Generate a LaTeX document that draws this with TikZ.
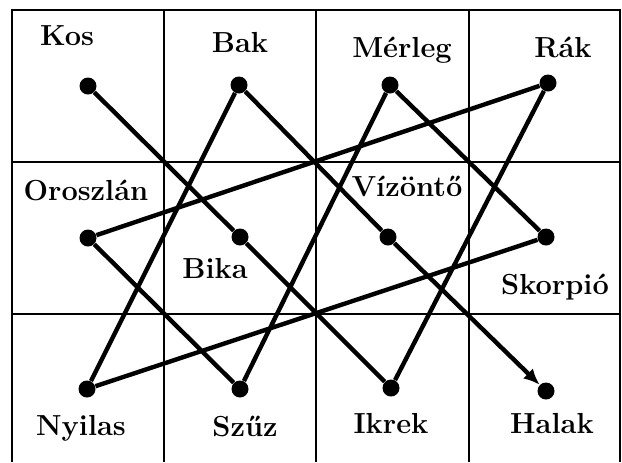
\documentclass[tikz,border=0pt]{standalone}
\usepackage{tikz}
\usetikzlibrary{arrows.meta}
\begin{document}
\begin{tikzpicture}[x=0.5pt,y=-0.5pt]
\tikzstyle{every node}+=[inner sep=0pt]
\tikzstyle{dot}=[circle,fill=black,minimum size=8.5pt]
\tikzstyle{sign}=[anchor=base,font=\fontsize{14.5}{17}\selectfont\bfseries]
\tikzstyle{grid}=[black,line width=1.3pt]
\tikzstyle{link}=[black,line width=2.2pt]
\useasboundingbox (0,0) rectangle (622,462);
\draw [grid] (12,462) -- (12,10) -- (620,10) -- (620,462);
\draw [grid] (164,10) -- (164,462);
\draw [grid] (316,10) -- (316,462);
\draw [grid] (469,10) -- (469,462);
\draw [grid] (12,162) -- (620,162);
\draw [grid] (12,314) -- (620,314);
\node [dot] (kos) at (88,86) {};
\node [dot] (bak) at (239,85) {};
\node [dot] (merleg) at (390,85) {};
\node [dot] (rak) at (548,83) {};
\node [dot] (oroszlan) at (88,238) {};
\node [dot] (bika) at (240,237) {};
\node [dot] (vizonto) at (388,237) {};
\node [dot] (skorpio) at (546,237) {};
\node [dot] (nyilas) at (87,389) {};
\node [dot] (szuz) at (240,389) {};
\node [dot] (ikrek) at (391,388) {};
\node [dot] (halak) at (546,391) {};
\node [sign] (kosl) at (67,45) {Kos};
\node [sign] (bakl) at (240,52) {Bak};
\node [sign] (merlegl) at (402,57) {Mérleg};
\node [sign] (rakl) at (563,57) {Rák};
\node [sign] (oroszlanl) at (86,200) {Oroszlán};
\node [sign] (bikal) at (215,278) {Bika};
\node [sign] (vizontol) at (407,196) {Vízöntő};
\node [sign] (skorpiol) at (555,294) {Skorpió};
\node [sign] (nyilasl) at (81,435) {Nyilas};
\node [sign] (szuzl) at (245,436) {Szűz};
\node [sign] (ikrekl) at (391,433) {Ikrek};
\node [sign] (halakl) at (552,433) {Halak};
\draw [link] (kos) -- (bika) -- (ikrek) -- (rak) -- (oroszlan) -- (szuz) -- (merleg) -- (skorpio) -- (nyilas) -- (bak) -- (vizonto);
\draw [link,-{Latex[length=8pt,width=7pt]}] (vizonto) -- (halak);
\end{tikzpicture}
\end{document}
